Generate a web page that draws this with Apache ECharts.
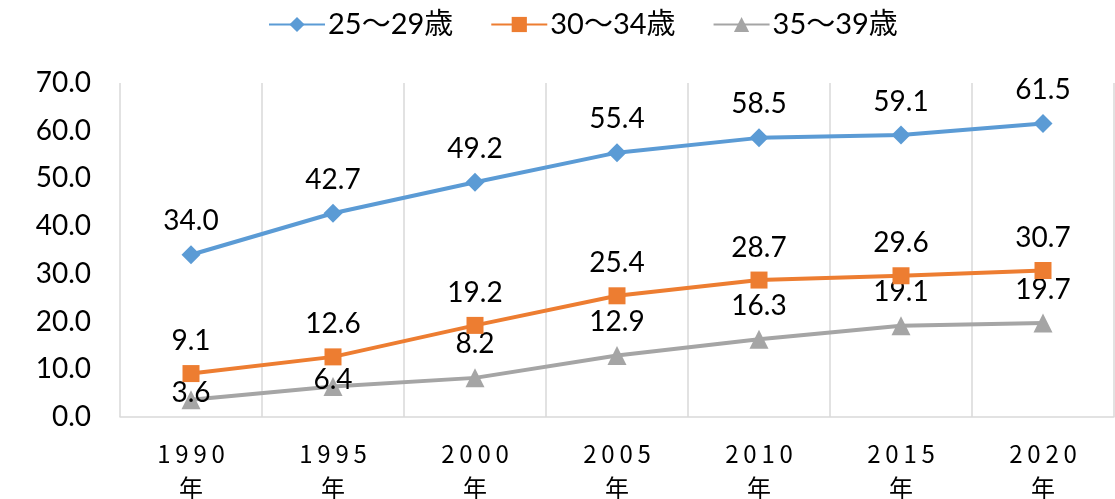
<!DOCTYPE html>
<html><head><meta charset="utf-8">
<script src="https://cdn.jsdelivr.net/npm/echarts@6/dist/echarts.min.js"></script>
<style>html,body{margin:0;padding:0;background:#fff}#c{width:1115px;height:499px}</style>
</head><body><div id="c"></div>
<script>
const categories = ['1990年','1995年','2000年','2005年','2010年','2015年','2020年'];
const seriesNames = ['25～29歳','30～34歳','35～39歳'];
const age25_29 = [34.0, 42.7, 49.2, 55.4, 58.5, 59.1, 61.5];
const age30_34 = [9.1, 12.6, 19.2, 25.4, 28.7, 29.6, 30.7];
const age35_39 = [3.6, 6.4, 8.2, 12.9, 16.3, 19.1, 19.7];
const yTicks = {min: 0, max: 70, interval: 10};

const NUMF = "Lato, 'Noto Sans CJK JP', sans-serif";
const CJKF = "'Noto Sans CJK JP', sans-serif";
const colors = ['#5B9BD5', '#ED7D31', '#A5A5A5'];
const symbols = ['diamond', 'rect', 'triangle'];
const symSizes = [19, 17, 19];
const allData = [age25_29, age30_34, age35_39];

function buildData(vals, si) {
  return vals.map((v, i) => {
    if (si === 2 && (i === 0 || i === 1)) {
      return {value: v, label: {offset: [0, 27]}};
    }
    return v;
  });
}

const chart = echarts.init(document.getElementById('c'), null, {renderer: 'canvas'});
chart.setOption({
  animation: false,
  color: colors,
  legend: {
    top: 5, left: 263,
    itemWidth: 56, itemHeight: 19, itemGap: 37,
    textStyle: {fontFamily: NUMF, fontSize: 29, color: '#000', padding: [0, 0, 0, -2]},
    data: seriesNames
  },
  grid: {left: 120, right: 1, top: 83, bottom: 82, containLabel: false, outerBoundsMode: 'none'},
  xAxis: {
    type: 'category',
    data: categories,
    boundaryGap: true,
    axisLine: {lineStyle: {color: '#D9D9D9', width: 1.5}},
    axisTick: {show: false},
    splitLine: {show: true, lineStyle: {color: '#D9D9D9', width: 1.5}},
    axisLabel: {
      margin: 20,
      fontFamily: CJKF, fontSize: 24, color: '#000', lineHeight: 34,
      formatter: (v) => {
        const m = v.match(/^(\d+)(.*)$/);
        return m[1].split('').join('\u2009') + '\n' + m[2];
      }
    }
  },
  yAxis: {
    type: 'value',
    min: yTicks.min, max: yTicks.max, interval: yTicks.interval,
    axisLine: {show: false},
    axisTick: {show: false},
    splitLine: {show: false},
    axisLabel: {
      margin: 29,
      fontFamily: NUMF, fontSize: 28, color: '#000',
      formatter: (v) => v.toFixed(1)
    }
  },
  series: allData.map((vals, si) => ({
    name: seriesNames[si],
    type: 'line',
    data: buildData(vals, si),
    symbol: symbols[si],
    symbolSize: symSizes[si],
    showAllSymbol: true,
    lineStyle: {width: 4, color: colors[si]},
    itemStyle: {color: colors[si]},
    label: {
      show: true, position: 'top', distance: 10,
      fontFamily: NUMF, fontSize: 28, color: '#000',
      formatter: (p) => Number(p.value).toFixed(1)
    },
    z: 3 - si
  }))
});
</script>
</body></html>
